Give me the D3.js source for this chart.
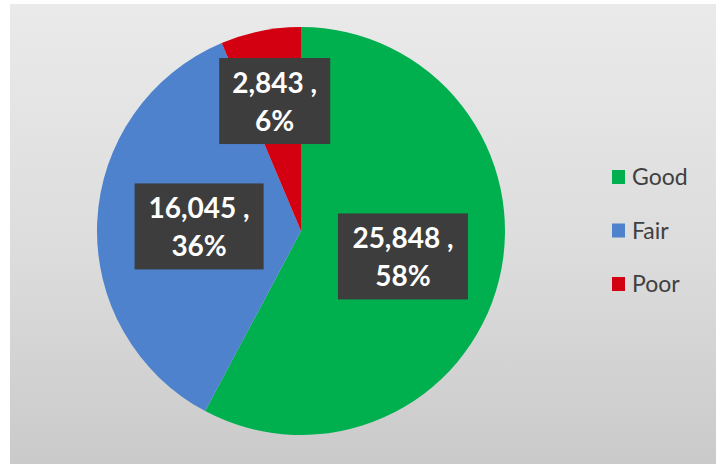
<!DOCTYPE html>
<html>
<head>
<meta charset="utf-8">
<script src="https://cdn.jsdelivr.net/npm/d3@7"></script>
<style>
html,body{margin:0;padding:0;background:#fff;}
svg{display:block;}
</style>
</head>
<body>
<svg id="chart" width="716" height="465"></svg>
<script>
const categories = ["Good", "Fair", "Poor"];
const values = [25848, 16045, 2843];
const percentLabels = ["58%", "36%", "6%"];
const colors = ["#00b04f", "#4e82cc", "#d20010"];

const W = 716, H = 465;
const svg = d3.select("#chart");
const defs = svg.append("defs");
const grad = defs.append("linearGradient").attr("id","bg").attr("x1",0).attr("y1",0).attr("x2",0).attr("y2",1);
grad.append("stop").attr("offset","0%").attr("stop-color","#eaeaea");
grad.append("stop").attr("offset","55%").attr("stop-color","#dcdcdc");
grad.append("stop").attr("offset","100%").attr("stop-color","#cacaca");
svg.append("rect").attr("x",10).attr("y",4).attr("width",W-10).attr("height",460).attr("fill","url(#bg)");

const cx = 301, cy = 231, r = 204;
const pie = d3.pie().sort(null).value(d => d)(values);
const arc = d3.arc().innerRadius(0).outerRadius(r);
const g = svg.append("g").attr("transform", `translate(${cx},${cy})`);
g.selectAll("path").data(pie).join("path")
  .attr("d", arc)
  .attr("fill", (d,i) => colors[i]);

// label boxes
const fmt = d3.format(",");
const boxW = [130, 129, 111];
const boxH = 86;
const radial = [1.03, 1.0, 1.3];
pie.forEach((d, i) => {
  const lr = r * 0.5 * radial[i];
  const c = d3.arc().innerRadius(lr).outerRadius(lr).centroid(d);
  const lg = g.append("g").attr("transform", `translate(${c[0]},${c[1]})`);
  lg.append("rect").attr("x",-boxW[i]/2).attr("y",-boxH/2).attr("width",boxW[i]).attr("height",boxH)
    .attr("fill","#3d3d3d");
  const t = lg.append("text").attr("text-anchor","middle")
    .attr("font-family","Lato, 'Open Sans', sans-serif").attr("font-weight","bold")
    .attr("font-size",28).attr("fill","#ffffff");
  t.append("tspan").attr("x",0).attr("y",-8).text(fmt(values[i]) + " ,");
  t.append("tspan").attr("x",0).attr("y",30).text(percentLabels[i]);
});

// legend
const lgY = d3.scalePoint().domain(categories).range([177, 284]);
const legend = svg.append("g");
categories.forEach((c,i) => {
  legend.append("rect").attr("x",612).attr("y",lgY(c)-7).attr("width",13).attr("height",14).attr("fill",colors[i]);
  legend.append("text").attr("x",632).attr("y",lgY(c)+8)
    .attr("font-family","Lato, 'Open Sans', sans-serif").attr("font-size",23)
    .attr("fill","#404040").text(c);
});
</script>
</body>
</html>
